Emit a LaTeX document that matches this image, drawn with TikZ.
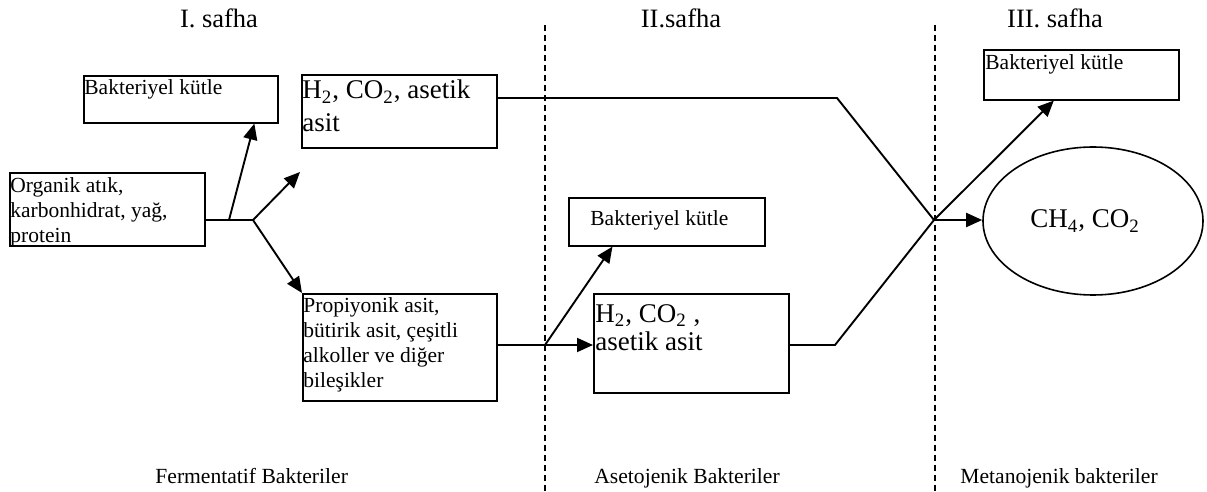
\documentclass[tikz,border=0pt]{standalone}
\usepackage{fontspec}
\setmainfont{Liberation Serif}
\usetikzlibrary{arrows.meta,shapes.geometric,calc}
\newcommand\sfnt{\fontsize{10.75pt}{12.4pt}\selectfont}
\newcommand\bfnt{\fontsize{13.5pt}{16.5pt}\selectfont}
\newcommand\mylines[1]{\begin{tabular}[t]{@{}l@{}}#1\end{tabular}}
\begin{document}
\begin{tikzpicture}[x=0.5pt,y=-0.5pt,
  box/.style={draw, line width=0.8pt, inner sep=0pt, anchor=north west},
  txt/.style={inner sep=0pt, anchor=base west, font=\sfnt},
  head/.style={inner sep=0pt, anchor=base, font=\fontsize{13.25pt}{15pt}\selectfont},
  foot/.style={inner sep=0pt, anchor=base west, font=\fontsize{10.8pt}{13pt}\selectfont},
  ln/.style={line width=0.95pt},
  arr/.style={line width=0.95pt, -{Triangle[length=8pt,width=7pt]}},
  sep/.style={line width=0.75pt, dash pattern=on 3pt off 2pt}]
\useasboundingbox (0,0) rectangle (1207,492);

% separators
\coordinate (d1t) at (545,25); \coordinate (d1b) at (545,492);
\coordinate (d2t) at (935,25); \coordinate (d2b) at (935,492);
\draw[sep] (d1t) -- (d1b);
\draw[sep] (d2t) -- (d2b);

% headings
\node[head] (s1) at (219,28) {I. safha};
\node[head] (s2) at (681,28) {II.safha};
\node[head] (s3) at (1055,28) {III. safha};

% footers
\node[foot] (f1) at (155,483) {Fermentatif Bakteriler};
\node[foot] (f2) at (594,483) {Asetojenik Bakteriler};
\node[foot] (f3) at (960,483) {Metanojenik bakteriler};

% boxes
\node[box, minimum width=97pt, minimum height=23.5pt] (b1) at (83,75) {};
\node[box, minimum width=97.5pt, minimum height=36.5pt] (h2a) at (301,74) {};
\node[box, minimum width=97.5pt, minimum height=36.5pt] (org) at (9,172) {};
\node[box, minimum width=97pt, minimum height=53.5pt] (prop) at (302,293) {};
\node[box, minimum width=98pt, minimum height=24pt] (bk2) at (568,197) {};
\node[box, minimum width=97.5pt, minimum height=49.5pt] (h2b) at (593,293) {};
\node[box, minimum width=97.5pt, minimum height=25pt] (bk3) at (983,49) {};
\node[ellipse, draw, line width=0.8pt, minimum width=110pt, minimum height=74pt, font=\bfnt] (ell) at (1093,221) {CH\textsubscript{4}, CO\textsubscript{2}\hspace*{8pt}};

% box texts
\node[txt] (t1) at (84,95) {Bakteriyel kütle};
\node[txt, font=\bfnt] (t2) at (302,99) {\mylines{H\textsubscript{2}, CO\textsubscript{2}, asetik\\asit}};
\node[txt] (t3) at (10,193) {\mylines{Organik atık,\\karbonhidrat, yağ,\\protein}};
\node[txt] (t4) at (303,313) {\mylines{Propiyonik asit,\\bütirik asit, çeşitli\\alkoller ve diğer\\bileşikler}};
\node[txt] (t5) at (590,226) {Bakteriyel kütle};
\node[txt, font=\fontsize{13.5pt}{14pt}\selectfont] (t6) at (595,322) {\mylines{H\textsubscript{2}, CO\textsubscript{2} ,\\asetik asit}};
\node[txt] (t7) at (985,70) {Bakteriyel kütle};

% junctions
\coordinate (j0) at (229,220);
\coordinate (j1) at (253,220);
\coordinate (c2) at (300,172);
\coordinate (j2) at (545,345);
\coordinate (k1) at (837,98);
\coordinate (k2) at (835,345);
\coordinate (x) at (934,220);

% connectors
\draw[ln] (org.east |- j1) -- (j1);
\draw[arr] (j0) -- ($(b1.south west)!0.876!(b1.south east)$);
\draw[arr] (j1) -- (c2);
\draw[arr] (j1) -- (prop.north west);
\draw[ln] (prop.east |- j2) -- (j2);
\draw[arr] (j2) -- (h2b.west |- j2);
\draw[arr] (j2) -- ($(bk2.south west)!0.225!(bk2.south east)$);
\draw[ln] (h2a.east |- k1) -- (k1) -- (x);
\draw[arr] (h2b.east |- k2) -- (k2) -- (x) -- ($(bk3.south west)!0.36!(bk3.south east)$);
\draw[arr] (x) -- (x -| ell.west);
\end{tikzpicture}
\end{document}
